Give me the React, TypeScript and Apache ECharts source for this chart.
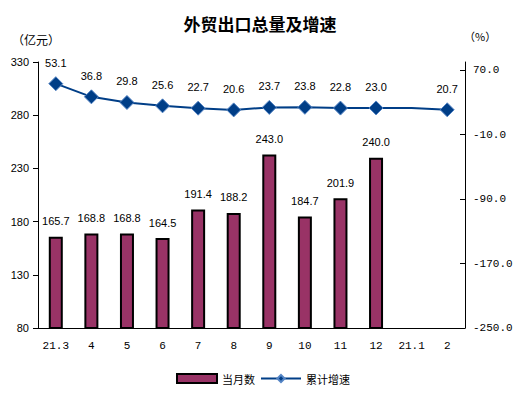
import React, { useEffect, useRef } from "react";
import * as echarts from "echarts";

const categories = ["21.3", "4", "5", "6", "7", "8", "9", "10", "11", "12", "21.1", "2"];
const monthlyValues: (number | null)[] = [165.7, 168.8, 168.8, 164.5, 191.4, 188.2, 243.0, 184.7, 201.9, 240.0, null, null];
const growthValues: (number | null)[] = [53.1, 36.8, 29.8, 25.6, 22.7, 20.6, 23.7, 23.8, 22.8, 23.0, 23.0, 20.7];
const growthMarkerHidden = [false, false, false, false, false, false, false, false, false, false, true, false];
const leftTicks = [80, 130, 180, 230, 280, 330];
const rightTicks = [-250, -170, -90, -10, 70];

const NUM_FONT = "Liberation Sans, Arial, sans-serif";
const MONO_FONT = "Liberation Mono, DejaVu Sans Mono, monospace";
const CJK_FONT = "Noto Sans CJK SC, sans-serif";

export default function App() {
  const ref = useRef<HTMLDivElement>(null);
  useEffect(() => {
    if (!ref.current) return;
    const chart = echarts.init(ref.current, undefined, { renderer: "svg" });
    chart.setOption({
      animation: false,
      backgroundColor: "#ffffff",
      title: {
        text: "外贸出口总量及增速",
        left: "center",
        top: 10,
        textStyle: { fontFamily: CJK_FONT, fontSize: 17, fontWeight: "bold", color: "#000" },
      },
      graphic: [
        { type: "text", left: 12, top: 33, style: { text: "（亿元）", font: `12px ${CJK_FONT}`, fill: "#000" } },
        { type: "text", left: 464, top: 30, style: { text: "（%）", font: `11px ${CJK_FONT}`, fill: "#000" } },
      ],
      legend: {
        left: 171,
        top: 368,
        itemWidth: 40,
        itemHeight: 9,
        itemGap: 5,
        textStyle: { fontFamily: CJK_FONT, fontSize: 11, color: "#000" },
        data: [
          { name: "当月数", icon: "rect" },
          { name: "累计增速" },
        ],
      },
      grid: { left: 38, right: 55, top: 62, bottom: 65 },
      xAxis: {
        type: "category",
        data: categories,
        boundaryGap: true,
        axisLine: { onZero: false, lineStyle: { color: "#000", width: 1 } },
        axisTick: { inside: true, length: 5, lineStyle: { color: "#000" } },
        axisLabel: { fontFamily: MONO_FONT, fontSize: 11, color: "#000", margin: 12, interval: 0 },
      },
      yAxis: [
        {
          type: "value",
          min: 80,
          max: 330,
          position: "left",
          splitLine: { show: false },
          axisLine: { show: true, lineStyle: { color: "#000" } },
          axisTick: { show: true, length: 5, customValues: leftTicks, lineStyle: { color: "#000" } },
          axisLabel: { fontFamily: NUM_FONT, fontSize: 11, color: "#000", margin: 9, customValues: leftTicks },
        },
        {
          type: "value",
          min: -250,
          max: 80,
          position: "right",
          splitLine: { show: false },
          axisLine: { show: true, lineStyle: { color: "#000" } },
          axisTick: { show: true, inside: true, length: 5, customValues: rightTicks, lineStyle: { color: "#000" } },
          axisLabel: {
            fontFamily: MONO_FONT,
            fontSize: 11,
            color: "#000",
            margin: 8,
            customValues: rightTicks,
            formatter: (v: number) => v.toFixed(1),
          },
        },
      ],
      series: [
        {
          name: "当月数",
          type: "bar",
          yAxisIndex: 0,
          data: monthlyValues,
          barWidth: 14,
          itemStyle: { color: "#993366", borderColor: "#000", borderWidth: 2 },
          label: {
            show: true,
            position: "top",
            distance: 10,
            fontFamily: NUM_FONT,
            fontSize: 11,
            color: "#000",
            formatter: (p: any) => Number(p.value).toFixed(1),
          },
        },
        {
          name: "累计增速",
          type: "line",
          yAxisIndex: 1,
          connectNulls: true,
          data: growthValues.map((v, i) =>
            growthMarkerHidden[i]
              ? { value: v, symbol: "none", label: { show: false } }
              : { value: v }
          ),
          symbol: "diamond",
          symbolSize: 14,
          lineStyle: { color: "#003E87", width: 2 },
          itemStyle: { color: "#003E87", borderColor: "#5585C5", borderWidth: 1 },
          label: {
            show: true,
            position: "top",
            distance: 8,
            fontFamily: NUM_FONT,
            fontSize: 11,
            color: "#000",
            formatter: (p: any) => Number(p.value).toFixed(1),
          },
        },
      ],
    });
    return () => chart.dispose();
  }, []);
  return (
    <div
      ref={ref}
      style={{ position: "absolute", left: 0, top: 0, width: 520, height: 393 }}
    />
  );
}
